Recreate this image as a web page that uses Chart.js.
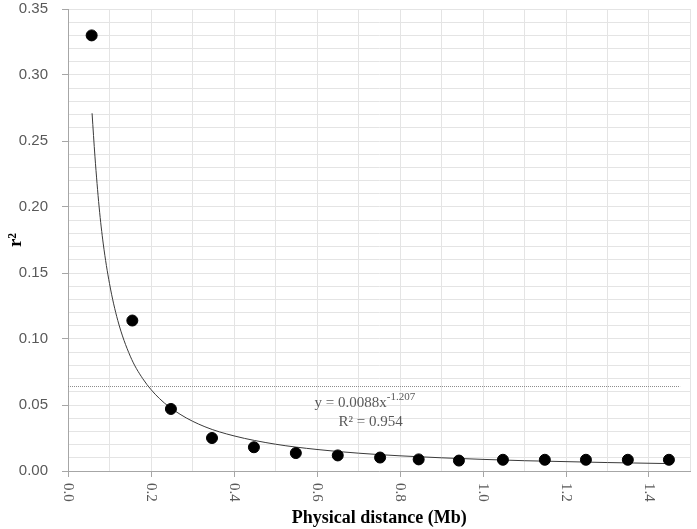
<!DOCTYPE html>
<html>
<head>
<meta charset="utf-8">
<script src="https://cdn.jsdelivr.net/npm/chart.js@4.4.0/dist/chart.umd.min.js"></script>
<style>
  html, body { margin: 0; padding: 0; background: #fff; }
  #wrap { width: 697px; height: 529px; }
</style>
</head>
<body>
<div id="wrap"><canvas id="ldChart" width="697" height="529"></canvas></div>
<script>
// mean r2 per distance bin (Mb)
const distances = [0.057, 0.155, 0.248, 0.347, 0.448, 0.549, 0.65, 0.752, 0.845, 0.942, 1.048, 1.149, 1.248, 1.349, 1.448];
const r2Values  = [0.330, 0.114, 0.047, 0.025, 0.018, 0.0136, 0.0118, 0.0102, 0.0088, 0.0079, 0.0085, 0.0085, 0.0085, 0.0085, 0.0085];

// power trend line
const trendX = [0.058, 0.065, 0.075, 0.085, 0.1, 0.12, 0.15, 0.18, 0.22, 0.27, 0.33, 0.4, 0.5, 0.6, 0.7, 0.8, 0.9, 1.0, 1.1, 1.2, 1.3, 1.45];
const trendY = [0.271, 0.238, 0.200, 0.172, 0.142, 0.114, 0.087, 0.070, 0.055, 0.043, 0.0335, 0.0266, 0.0203, 0.0163, 0.0135, 0.0115, 0.0100, 0.0088, 0.0078, 0.0071, 0.0064, 0.0056];

// dotted threshold line
const thresholdX = [0, 1.475];
const thresholdY = 0.064;

const xTickLabels = [0.0, 0.2, 0.4, 0.6, 0.8, 1.0, 1.2, 1.4];
const equationText = 'y = 0.0088x';
const equationExp = '-1.207';
const rSquaredText = 'R² = 0.954';

const grey = '#595959';
const serif = '"Liberation Serif", "Times New Roman", serif';

//Etiquettes de l'axe x tournées + équation de la courbe
const extraText = {
    id: 'extraText',
    afterDraw(chart) {
        const ctx = chart.ctx;
        const xs = chart.scales.x;
        const ys = chart.scales.y;

        ctx.save();
        ctx.fillStyle = grey;
        ctx.font = '15px ' + serif;
        ctx.textAlign = 'left';
        ctx.textBaseline = 'middle';
        xTickLabels.forEach(v => {
            const px = xs.getPixelForValue(v);
            ctx.save();
            ctx.translate(px, xs.top + 12);
            ctx.rotate(Math.PI / 2);
            ctx.fillText(v.toFixed(1), 0, 0);
            ctx.restore();
        });

        //Equation
        ctx.textBaseline = 'alphabetic';
        const ex = xs.getPixelForValue(0.594);
        const ey = ys.getPixelForValue(0.0485);
        ctx.font = '15px ' + serif;
        ctx.fillText(equationText, ex, ey);
        const w = ctx.measureText(equationText).width;
        ctx.font = '11px ' + serif;
        ctx.fillText(equationExp, ex + w, ey - 7);

        ctx.font = '15px ' + serif;
        ctx.fillText(rSquaredText, xs.getPixelForValue(0.652), ys.getPixelForValue(0.0342));
        ctx.restore();
    }
};

const ctx = document.getElementById('ldChart').getContext('2d');
const ldChart = new Chart(ctx, {
    type: 'scatter',
    data: {
        datasets: [{
            label: 'r2',
            data: distances.map((d, i) => ({ x: d, y: r2Values[i] })),
            backgroundColor: '#000',
            borderColor: '#000',
            pointRadius: 5.5,
            order: 0
        }, {
            label: 'trend',
            data: trendX.map((d, i) => ({ x: d, y: trendY[i] })),
            showLine: true,
            borderColor: '#3a3a3a',
            borderWidth: 1,
            pointRadius: 0,
            cubicInterpolationMode: 'monotone',
            order: 1
        }, {
            label: 'threshold',
            data: thresholdX.map(d => ({ x: d, y: thresholdY })),
            showLine: true,
            borderColor: '#8c8c8c',
            borderWidth: 1,
            borderDash: [1, 1],
            pointRadius: 0,
            order: 2
        }]
    },
    options: {
        responsive: false,
        animation: false,
        layout: { padding: { top: 9, right: 3, left: 0, bottom: 0 } },
        plugins: {
            legend: { display: false },
            tooltip: { enabled: false }
        },
        scales: {
            x: {
                type: 'linear',
                min: 0,
                max: 1.5,
                afterFit: s => { s.height = 58; s.paddingLeft = 0; s.paddingRight = 0; },
                ticks: { display: false, stepSize: 0.1 },
                grid: {
                    color: '#e4e4e4',
                    tickLength: 6,
                    tickColor: c => (Math.round(c.tick.value * 10) % 2 === 0 ? '#a6a6a6' : 'rgba(0,0,0,0)')
                },
                border: { color: '#a6a6a6' },
                title: {
                    display: true,
                    text: 'Physical distance (Mb)',
                    color: '#000',
                    font: { family: serif, size: 18, weight: 'bold' },
                    padding: { top: 36, bottom: 0 }
                }
            },
            y: {
                min: 0,
                max: 0.35,
                afterFit: s => { s.width = 68; s.paddingTop = 0; s.paddingBottom = 0; },
                ticks: {
                    stepSize: 0.01,
                    autoSkip: false,
                    color: grey,
                    padding: 14,
                    font: { family: '"Liberation Sans", Arial, sans-serif', size: 15 },
                    callback: v => (Math.round(v * 100) % 5 === 0 ? v.toFixed(2) : '')
                },
                grid: {
                    color: '#e4e4e4',
                    tickLength: 6,
                    tickColor: c => (Math.round(c.tick.value * 100) % 5 === 0 ? '#a6a6a6' : 'rgba(0,0,0,0)')
                },
                border: { color: '#a6a6a6' },
                title: {
                    display: true,
                    text: 'r²',
                    color: '#000',
                    font: { family: serif, size: 19, weight: 'bold' },
                    padding: { top: 5, bottom: 0 }
                }
            }
        }
    },
    plugins: [extraText]
});
</script>
</body>
</html>
